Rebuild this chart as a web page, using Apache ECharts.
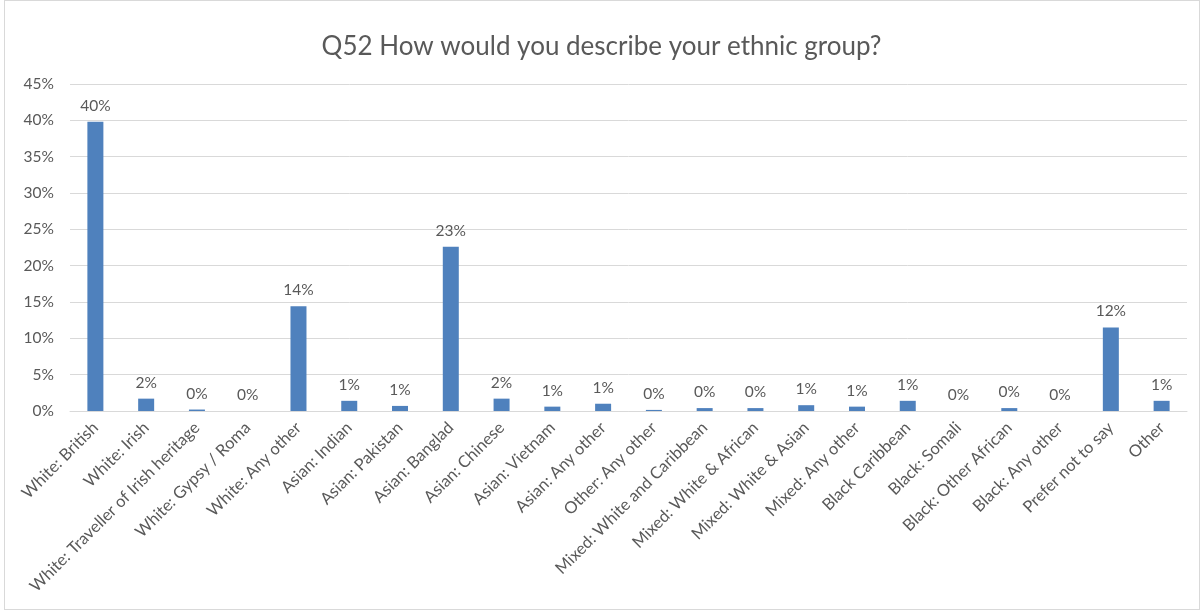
<!DOCTYPE html>
<html>
<head>
<meta charset="utf-8">
<script src="https://cdn.jsdelivr.net/npm/echarts@6/dist/echarts.min.js"></script>
<style>
  html, body { margin: 0; padding: 0; background: #fff; }
  #frame { position: absolute; left: 4px; top: 0; width: 1196px; height: 610px; border: 1px solid #d9d9d9; box-sizing: border-box; }
  #chart { position: absolute; left: 0; top: 0; width: 1203px; height: 612px; }
</style>
</head>
<body>
<div id="frame"></div>
<div id="chart"></div>
<script>
// Survey answers to Q52, percentage of respondents per ethnic group
const categories = [
  'White: British', 'White: Irish', 'White: Traveller of Irish heritage', 'White: Gypsy / Roma',
  'White: Any other', 'Asian: Indian', 'Asian: Pakistan', 'Asian: Banglad', 'Asian: Chinese',
  'Asian: Vietnam', 'Asian: Any other', 'Other: Any other', 'Mixed: White and Caribbean',
  'Mixed: White & African', 'Mixed: White & Asian', 'Mixed: Any other', 'Black Caribbean',
  'Black: Somali', 'Black: Other African', 'Black: Any other', 'Prefer not to say', 'Other'
];
const shares = [
  39.8, 1.7, 0.2, 0, 14.4, 1.4, 0.7, 22.6, 1.7, 0.6, 1.0,
  0.15, 0.4, 0.4, 0.8, 0.6, 1.4, 0, 0.4, 0, 11.5, 1.4
];
const yTicks = [0, 5, 10, 15, 20, 25, 30, 35, 40, 45];

const font = 'Lato, "Liberation Sans", sans-serif';
const textColor = '#595959';

const chart = echarts.init(document.getElementById('chart'));
chart.setOption({
  animation: false,
  title: {
    text: 'Q52 How would you describe your ethnic group?',
    left: 'center',
    top: 29,
    textStyle: { fontFamily: font, fontSize: 26, fontWeight: 'normal', color: textColor }
  },
  grid: { left: 70, right: 16, top: 84, bottom: 201, containLabel: false },
  xAxis: {
    type: 'category',
    data: categories,
    axisLine: { lineStyle: { color: '#d9d9d9' } },
    axisTick: { show: false },
    axisLabel: {
      interval: 0,
      rotate: 45,
      margin: 14,
      fontFamily: font,
      fontSize: 16.5,
      color: textColor
    }
  },
  yAxis: {
    type: 'value',
    min: yTicks[0],
    max: yTicks[yTicks.length - 1],
    interval: 5,
    axisLine: { show: false },
    axisTick: { show: false },
    splitLine: { lineStyle: { color: '#d9d9d9' } },
    axisLabel: {
      formatter: v => v + '%',
      margin: 16,
      fontFamily: font,
      fontSize: 15.5,
      color: textColor
    }
  },
  series: [{
    type: 'bar',
    data: shares,
    barWidth: 16,
    itemStyle: { color: '#4f81bd' },
    label: {
      show: true,
      position: 'top',
      distance: 8,
      formatter: p => Math.round(p.value) + '%',
      fontFamily: font,
      fontSize: 15.5,
      color: textColor
    }
  }]
});
</script>
</body>
</html>
